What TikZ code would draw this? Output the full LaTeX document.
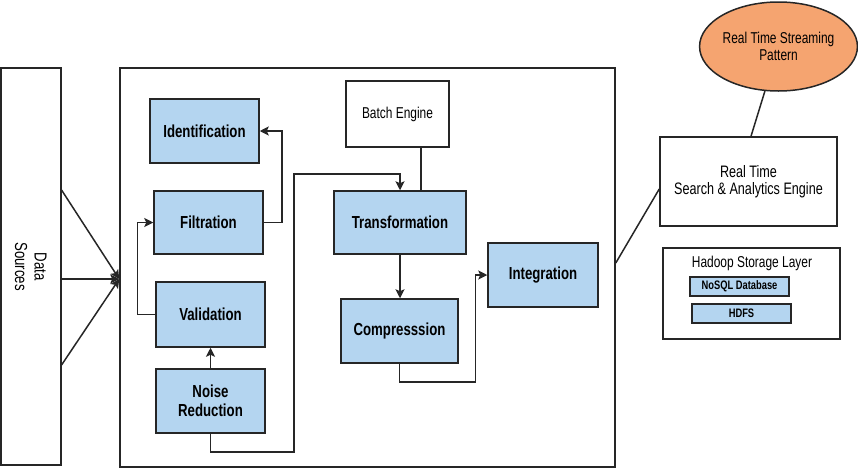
\documentclass[tikz,border=0pt]{standalone}
\usepackage{fontspec}
\setmainfont{Liberation Sans}[FakeStretch=0.76]
\usetikzlibrary{arrows.meta,positioning,calc,shapes.geometric}
\definecolor{procblue}{HTML}{B4D5F0}
\definecolor{streamorange}{HTML}{F5A470}
\tikzset{
  box/.style   ={draw=black!85, line width=1.5pt, inner sep=0pt, align=center, fill=white,
                 font=\fontsize{15.7}{17.5}\selectfont},
  proc/.style  ={box, fill=procblue, minimum width=109pt, minimum height=64pt,
                 font=\bfseries\fontsize{17.4}{19.5}\selectfont},
  store/.style ={box, fill=procblue, minimum width=99pt, minimum height=19pt,
                 font=\bfseries\fontsize{12.3}{13}\selectfont},
  ln/.style    ={draw=black!85, line width=1.5pt},
  ar/.style    ={ln, -{Stealth[length=9pt,width=9pt,inset=2pt]}},
}

\begin{document}
\begin{tikzpicture}[x=1pt,y=-1pt]
\useasboundingbox (0,0) rectangle (858,469);
% left column and main frame
\node[box, minimum width=60pt, minimum height=397pt] (data) at (30.8,266.5) {};
\node[rotate=-90, align=center, font=\fontsize{17.4}{19.5}\selectfont] (datalbl) at (data.center) {Data\\Sources};
\node[box, minimum width=495pt, minimum height=399pt] (main) at (367.5,267.5) {};
% processing steps
\node[proc] (ident) at (204.5,131) {Identification};
\node[proc, minimum height=63pt] (filt) at (208.5,222.5) {Filtration};
\node[proc, minimum height=65pt] (valid) at (210.5,314.5) {Validation};
\node[proc] (noise) at (210.5,401) {Noise\\Reduction};
\node[box, minimum width=103pt, minimum height=66pt] (batch) at (397.5,114) {Batch Engine};
\node[proc, minimum width=132pt, minimum height=63pt] (trans) at (400,222.5) {Transformation};
\node[proc, minimum width=117pt] (comp) at (399.5,331) {Compresssion};
\node[proc, minimum width=110pt] (integ) at (543,275) {Integration};
% right side
\node[box, ellipse, fill=streamorange, minimum width=149pt, minimum height=89pt] (stream) at (778.5,46.5) {Real Time Streaming\\Pattern};
\node[box, minimum width=177pt, minimum height=89pt, font=\fontsize{16.6}{17.5}\selectfont] (rt) at (748.5,181.5) {Real Time\\Search \& Analytics Engine};
\node[box, minimum width=177pt, minimum height=91pt] (hadoop) at (751.5,293.5) {};
\node[font=\fontsize{15.7}{17}\selectfont, inner sep=0pt] (hadooptitle) at (752,263) {Hadoop Storage Layer};
\node[store] (nosql) at (739.5,286.5) {NoSQL Database};
\node[store] (hdfs) at (741.5,313.5) {HDFS};

% connectors
\draw[ar] ([yshift=76.5pt]data.east) -- ([yshift=-11.5pt]main.west);
\draw[ar] ([yshift=-12.5pt]data.east) -- ([yshift=-11.5pt]main.west);
\draw[ar] ([yshift=-98.5pt]data.east) -- ([yshift=-11.5pt]main.west);
\draw[ar] (noise.north) -- (valid.south);
\draw[ar] (valid.west) -- ++(-18,0) |- (filt.west);
\draw[ar] (filt.east) -- ++(18,0) |- (ident.east);
\draw[ar] (noise.south) -- ++(0,18) -| ++(83.5,-278) -| (trans.north);
\coordinate (bt) at ([xshift=23.5pt]batch.south);
\draw[ln] (bt) -- (bt |- trans.north);
\draw[ar] (trans.south) -- (trans.south |- comp.north);
\draw[ar] (comp.south) -- ++(0,18) -| ([xshift=-12pt]integ.west) -- (integ.west);
\draw[ln] ([yshift=4.5pt]main.east) -- ([yshift=-7.5pt]rt.west);
\draw[ln] ([xshift=-13.5pt,yshift=1pt]stream.south) -- ([xshift=2.5pt]rt.north);
\end{tikzpicture}
\end{document}
